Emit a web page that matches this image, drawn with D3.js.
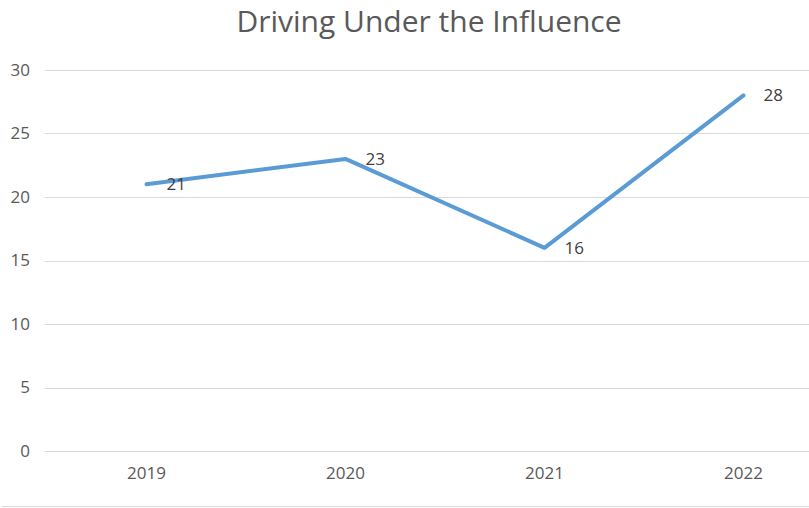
<!DOCTYPE html>
<html>
<head>
<meta charset="utf-8">
<script src="https://cdn.jsdelivr.net/npm/d3@7"></script>
<style>
  body { margin: 0; background: #fff; }
  text { font-family: "Open Sans", "Noto Sans", sans-serif; }
</style>
</head>
<body>
<script>
var width = 809;
var height = 508;

var years = ["2019", "2020", "2021", "2022"];
var counts = [21, 23, 16, 28];
var yTicks = [0, 5, 10, 15, 20, 25, 30];
var title = "Driving Under the Influence";

var svg = d3.select("body").append("svg")
    .attr("width", width)
    .attr("height", height);

// category bands, points sit in the middle
var x = d3.scaleBand()
    .domain(years)
    .range([47, 843]);

var y = d3.scaleLinear()
    .domain([0, 30])
    .range([451, 70]);

var gridLeft = 45;

// title
svg.append("text")
    .attr("x", 429)
    .attr("y", 32)
    .attr("text-anchor", "middle")
    .style("font-size", "30px")
    .style("fill", "#595959")
    .text(title);

// gridlines
svg.append("g")
  .selectAll("line")
  .data(yTicks)
  .enter().append("line")
    .attr("x1", gridLeft)
    .attr("x2", width)
    .attr("y1", function(d) { return Math.round(y(d)) + 0.5; })
    .attr("y2", function(d) { return Math.round(y(d)) + 0.5; })
    .style("stroke", "#d9d9d9")
    .style("stroke-width", 1);

// y axis labels
var yAxis = d3.axisLeft(y)
    .tickValues(yTicks)
    .tickSize(0)
    .tickPadding(0);

var gy = svg.append("g")
    .attr("transform", "translate(30,0)")
    .call(yAxis);
gy.select(".domain").remove();
gy.selectAll("text")
    .style("font-size", "17px")
    .style("fill", "#595959");

// x axis labels
var xAxis = d3.axisBottom(x)
    .tickSize(0)
    .tickPadding(0);

var gx = svg.append("g")
    .attr("transform", "translate(0,467)")
    .call(xAxis);
gx.select(".domain").remove();
gx.selectAll("text")
    .style("font-size", "17px")
    .style("fill", "#595959");

// frame line at the bottom
svg.append("line")
    .attr("x1", 2)
    .attr("x2", width)
    .attr("y1", 506.5)
    .attr("y2", 506.5)
    .style("stroke", "#d9d9d9");

var pts = years.map(function(d, i) { return {year: d, value: counts[i]}; });

var line = d3.line()
    .x(function(d) { return x(d.year) + x.bandwidth() / 2; })
    .y(function(d) { return y(d.value); });

svg.append("path")
    .datum(pts)
    .attr("d", line)
    .style("fill", "none")
    .style("stroke", "#5b9bd5")
    .style("stroke-width", 4)
    .style("stroke-linecap", "round")
    .style("stroke-linejoin", "round");

// data labels to the right of each point
svg.append("g")
  .selectAll("text")
  .data(pts)
  .enter().append("text")
    .attr("x", function(d) { return x(d.year) + x.bandwidth() / 2 + 20; })
    .attr("y", function(d) { return y(d.value); })
    .attr("dy", "0.35em")
    .style("font-size", "17px")
    .style("fill", "#404040")
    .text(function(d) { return d.value; });
</script>
</body>
</html>
